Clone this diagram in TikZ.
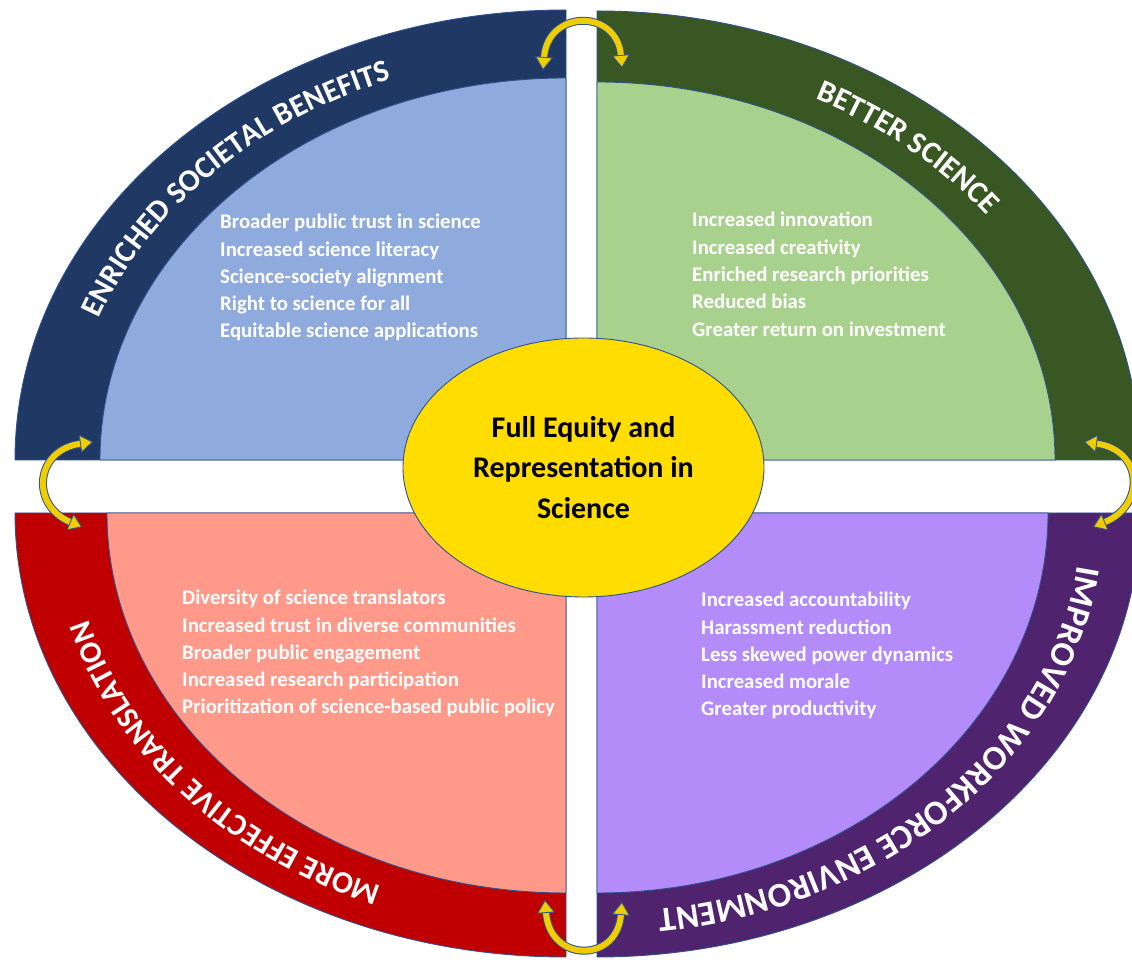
\documentclass[tikz,border=0pt]{standalone}
\usepackage{fontspec}
\setmainfont{Carlito}
\usetikzlibrary{arrows.meta,positioning,shapes.geometric,calc,decorations.text}

\definecolor{edge}{RGB}{47,82,143}
\definecolor{navyring}{RGB}{31,56,100}
\definecolor{bluefill}{RGB}{143,170,220}
\definecolor{greenring}{RGB}{56,87,35}
\definecolor{greenfill}{RGB}{169,209,142}
\definecolor{redring}{RGB}{192,0,0}
\definecolor{redfill}{RGB}{255,153,138}
\definecolor{purplering}{RGB}{79,35,110}
\definecolor{purplefill}{RGB}{179,140,250}
\definecolor{gold}{RGB}{255,221,0}
\definecolor{arrowgold}{RGB}{240,205,0}

\newcommand{\listfont}{\fontsize{20.8}{27.3}\selectfont\bfseries}
\newcommand{\ringfont}{\fontsize{31}{31}\selectfont\bfseries}
\newcommand{\bigringfont}{\fontsize{34.5}{34.5}\selectfont\bfseries}
\newcommand{\corefont}{\fontsize{30}{40.5}\selectfont\bfseries}

\tikzset{looptip/.tip={Triangle[length=13pt,width=18pt,fill=arrowgold,color=edge,line width=0.8pt]}}

\begin{document}
\begin{tikzpicture}[x=1pt,y=1pt,
  quarter/.style={draw=edge,line width=0.9pt},
  benefit/.style={text=white,font=\listfont,align=left,anchor=north west,inner sep=0pt},
  ringlabel/.style 2 args={decorate,decoration={text along path,text={|#1|#2},text align=center,text color=white}},
  loopbase/.style={line width=8pt,draw=edge,looptip-looptip},
  looptop/.style={line width=6pt,draw=arrowgold,looptip-looptip}]
\useasboundingbox (0,0) rectangle (1132,960);
\fill[white] (0,0) rectangle (1132,960);

% Corners of the four quarters
\coordinate (esb) at (566,500);
\coordinate (bs) at (597,500);
\coordinate (met) at (566,447);
\coordinate (iwe) at (597,447);

% Quarters
\filldraw[quarter,fill=navyring] (esb) -- ++(-551,0) arc[start angle=180,end angle=90,x radius=551,y radius=450] -- cycle;
\filldraw[quarter,fill=bluefill] (esb) -- ++(-466,0) arc[start angle=180,end angle=90,x radius=466,y radius=382] -- cycle;
\filldraw[quarter,fill=greenring] (bs) -- ++(0,449) arc[start angle=90,end angle=0,x radius=543,y radius=449] -- cycle;
\filldraw[quarter,fill=greenfill] (bs) -- ++(0,378) arc[start angle=90,end angle=0,x radius=458,y radius=378] -- cycle;
\filldraw[quarter,fill=redring] (met) -- ++(-551,0) arc[start angle=180,end angle=270,x radius=551,y radius=444] -- cycle;
\filldraw[quarter,fill=redfill] (met) -- ++(-459,0) arc[start angle=180,end angle=270,x radius=459,y radius=380] -- cycle;
\filldraw[quarter,fill=purplering] (iwe) -- ++(543,0) arc[start angle=0,end angle=-90,x radius=543,y radius=444] -- cycle;
\filldraw[quarter,fill=purplefill] (iwe) -- ++(451,0) arc[start angle=0,end angle=-90,x radius=451,y radius=380] -- cycle;

% Ring labels
\path[ringlabel={\ringfont}{ENRICHED SOCIETAL BENEFITS}] (esb) ++(182:498 and 406) arc[start angle=182,end angle=92,x radius=498,y radius=406];
\path[ringlabel={\ringfont}{BETTER SCIENCE}] (bs) ++(93:490 and 403) arc[start angle=93,end angle=3,x radius=490,y radius=403];
\path[ringlabel={\ringfont}{MORE EFFECTIVE TRANSLATION}] (met) ++(265:495 and 402) arc[start angle=265,end angle=175,x radius=495,y radius=402];
\path[ringlabel={\bigringfont}{IMPROVED WORKFORCE ENVIRONMENT}] (iwe) ++(6:485 and 400) arc[start angle=6,end angle=-94,x radius=485,y radius=400];

% Lists
\node[benefit] (esb-list) at (220,746) {Broader public trust in science\\Increased science literacy\\Science-society alignment\\Right to science for all\\Equitable science applications};
\node[benefit] (bs-list) at (692,748) {Increased innovation\\Increased creativity\\Enriched research priorities\\Reduced bias\\Greater return on investment};
\node[benefit] (met-list) at (182,370) {Diversity of science translators\\Increased trust in diverse communities\\Broader public engagement\\Increased research participation\\Prioritization of science-based public policy};
\node[benefit] (iwe-list) at (701,368) {Increased accountability\\Harassment reduction\\Less skewed power dynamics\\Increased morale\\Greater productivity};

% Centre
\node[ellipse,draw=edge,line width=0.9pt,fill=gold,minimum width=361pt,minimum height=259pt,inner sep=0pt,font=\corefont,align=center] (core) at (583.5,492.5) {Full Equity and\\Representation in\\Science};

% Arrows between the quarters
\coordinate (esb-n) at (543,890);
\coordinate (bs-n) at (622,892);
\coordinate (esb-w) at (93,518);
\coordinate (met-w) at (82,433);
\coordinate (bs-e) at (1084,518);
\coordinate (iwe-e) at (1093,433);
\coordinate (met-s) at (545,60);
\coordinate (iwe-s) at (622,58);
\foreach \st in {loopbase,looptop} {
  \draw[\st] (esb-n) .. controls +(5,61) and +(-5,59) .. (bs-n);
  \draw[\st] (esb-w) .. controls +(-58,-8) and +(-52,22) .. (met-w);
  \draw[\st] (bs-e) .. controls +(59,-8) and +(53,22) .. (iwe-e);
  \draw[\st] (met-s) .. controls +(5,-63) and +(-5,-61) .. (iwe-s);
}
\end{tikzpicture}
\end{document}
